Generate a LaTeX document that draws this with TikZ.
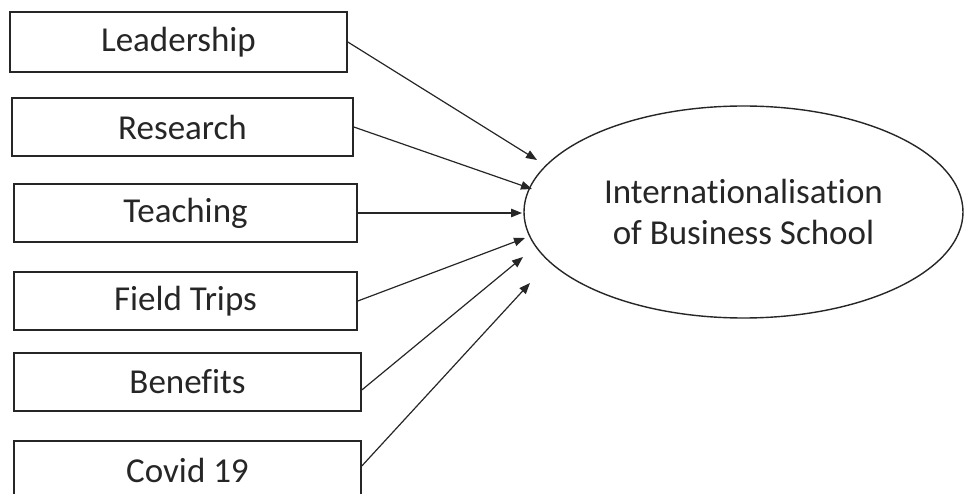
\documentclass[tikz,border=0pt]{standalone}
\usepackage{fontspec}
\setmainfont[Ligatures=NoCommon,RawFeature={-liga,-clig,-dlig,-calt}]{Carlito}
\usetikzlibrary{shapes.geometric,arrows.meta,calc}
\definecolor{ink}{HTML}{262626}
\begin{document}
\begin{tikzpicture}[x=1pt,y=-1pt,
  factor/.style={draw=ink,line width=1.6pt,rectangle,inner sep=0pt,
    text=ink,font=\fontsize{35}{41}\selectfont},
  outcome/.style={draw=ink,line width=1.4pt,ellipse,inner sep=0pt,
    minimum width=439pt,minimum height=212pt,align=center,
    text=ink,font=\fontsize{35}{41}\selectfont},
  link/.style={draw=ink,line width=1.2pt,-{Triangle[length=11pt,width=8.5pt]}}]
\useasboundingbox (0,0) rectangle (964,494);

% factor boxes
\node[factor,minimum width=337pt,minimum height=60pt] (b1) at (178.5,42) {Leadership};
\node[factor,minimum width=341pt,minimum height=58pt] (b2) at (182.5,127) {Research};
\node[factor,minimum width=343pt,minimum height=58pt] (b3) at (185.5,213) {Teaching};
\node[factor,minimum width=343pt,minimum height=58pt] (b4) at (185.5,301) {Field Trips};
\node[factor,minimum width=347pt,minimum height=58pt] (b5) at (187.5,382) {Benefits};
\node[factor,minimum width=347pt,minimum height=58pt] (b6) at (187.5,470) {Covid 19};

% outcome
\node[outcome] (ibs) at (743.5,212) {Internationalisation\\of Business School};

% arrow tips just outside the ellipse
\coordinate (t1) at (537,160);
\coordinate (t2) at (532,189);
\coordinate (t3) at (522,213);
\coordinate (t4) at (525,238);
\coordinate (t5) at (523,257);
\coordinate (t6) at (530,283);

\draw[link] (b1.east) -- (t1);
\draw[link] (b2.east) -- (t2);
\draw[link] (b3.east) -- (t3);
\draw[link] (b4.east) -- (t4);
\draw[link] ($(b5.east)+(0,8)$) -- (t5);
\draw[link] ($(b6.east)+(0,-4)$) -- (t6);
\end{tikzpicture}
\end{document}
